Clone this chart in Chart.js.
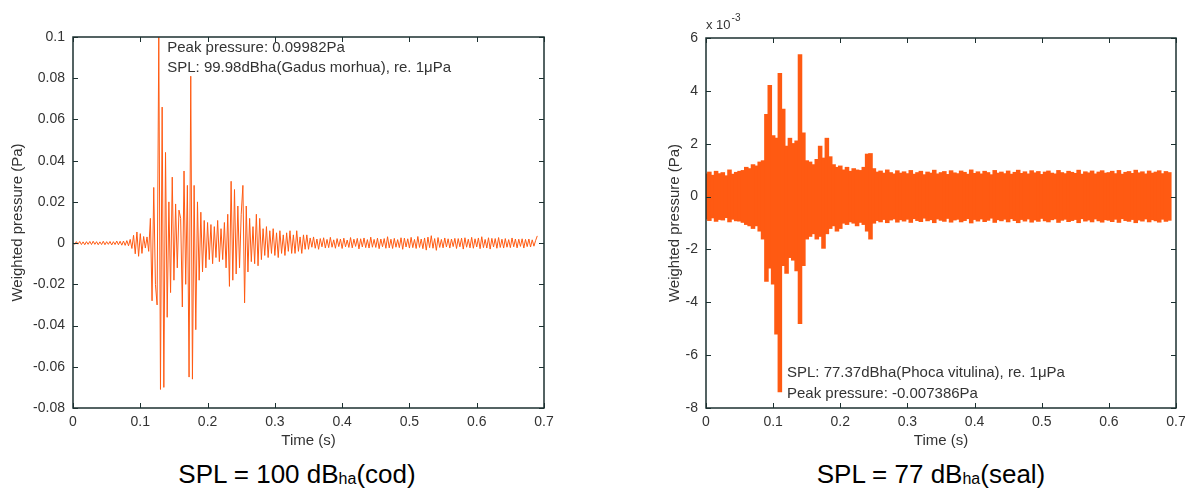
<!DOCTYPE html>
<html>
<head>
<meta charset="utf-8">
<script src="https://cdn.jsdelivr.net/npm/chart.js"></script>
<style>
  body { margin: 0; background: #fff; width: 1185px; height: 488px; overflow: hidden; position: relative; font-family: "Liberation Sans", Arial, sans-serif; }
  canvas { position: absolute; top: 0; }
  #cod { left: 0; }
  #seal { left: 650px; }
  .caption { position: absolute; top: 461px; width: 400px; height: 26px; line-height: 26px; font-size: 26px; text-align: center; color: #000; white-space: nowrap; }
  .caption span { font-size: 16px; vertical-align: -1px; }
</style>
</head>
<body>
<canvas id="cod" width="580" height="450"></canvas>
<canvas id="seal" width="535" height="450"></canvas>
<div class="caption" style="left:97px">SPL = 100 dB<span>ha</span>(cod)</div>
<div class="caption" style="left:731px">SPL = 77 dB<span>ha</span>(seal)</div>
<script>
// shared axes
const timeTicks = [0, 0.1, 0.2, 0.3, 0.4, 0.5, 0.6, 0.7];
const codYTicks = [-0.08, -0.06, -0.04, -0.02, 0, 0.02, 0.04, 0.06, 0.08, 0.1];
const sealYTicks = [-8, -6, -4, -2, 0, 2, 4, 6];

// cod: weighted pressure in mPa, one sample every 2.5 ms
const codStep = 0.0025;
const codValues = [
  0.3, -0.6, 0.7, -0.5, 0.8, -0.7, 0.6, -0.8, 0.7, -0.6,
  0.8, -0.7, 0.9, -0.6, 0.7, -0.8, 0.6, -0.7, 0.9, -0.8,
  0.7, -0.6, 0.8, -0.9, 0.7, -0.7, 1.0, -0.8, 0.9, -1.0,
  1.0, -1.1, 1.2, -1.3, 1.8, -2.6, 3.8, -5.2, 5.4, -6.4,
  4.6, -5.0, 3.2, -2.4, 3.0, -4.0, 12, -28, 27, -20,
  -30, 99.82, -71, 66, -70, 44, -36, 20, -24, 32,
  -18, 19, -12, 16, 12, -31, 35, -20, 28, -65,
  81, -66, 28, -42, 20, -18, 15, -14, 11, -12,
  10, -8, 9, -10, 8, -7, 11, -9, 7, -8,
  10, -12, 14, -21, 30, -18, 26, -15, 18, -12,
  14, 28, -29, 18, -14, 12, -9, 8, -10, 14,
  -11, 12, -8, 7, -6, 8, -7, 6, -5, 7,
  -6, 5, -7, 6, -5, 4, -6, 5, -4, 6,
  -5, 4, -5, 6, -4, 3, -5, 4, -3, 4,
  -3, 2.5, -2, 3, -2.5, 2, -3, 2.2, -1.8, 2.6,
  -2.4, 1.8, -2.2, 2.8, -2, 1.6, -2.5, 2.2, -1.7, 2,
  -2.6, 2.4, -1.8, 1.5, -2.1, 2.7, -2.3, 1.9, -1.6, 2.3,
  -2.8, 2.1, -1.9, 2.5, -2.2, 1.7, -2.4, 2.9, -2, 1.8,
  -2.1, 2.4, -2.7, 2, -1.8, 2.2, -2.5, 3.1, -2.3, 1.9,
  -2.6, 2.3, -2, 1.7, -2.2, 2.6, -3, 2.4, -1.9, 2.1,
  -2.4, 2.8, -2.2, 1.8, -2.6, 3.2, -2.1, 2, -2.7, 2.5,
  -3.4, 2.9, -2.2, 3.6, -2.5, 2.2, -3.5, 2.7, -2.1, 1.8,
  -2.3, 2.5, -1.9, 2.1, -2.4, 2, -1.7, 2.3, -2.6, 2.2,
  -1.8, 2.4, -2.9, 2.6, -2, 1.9, -2.3, 2.8, -2.5, 2.1,
  -1.9, 2.5, -2.7, 3.1, -2.2, 1.8, -2.4, 2.6, -2.9, 2.3,
  -1.9, 2.2, -2.5, 2.7, -2.1, 1.9, -2.4, 2.2, -2, 1.7,
  -2.2, 2.5, -1.8, 2, -2.3, 1.9, -1.6, 2.1, -2.4, 1.8,
  -1.7, 2, -1.9, 1.6, -1.5, 1.2, 3.5
];

// seal: dense noise, read as upper / lower envelope (x 10^-3 Pa) every 5 ms
const sealStep = 0.005;
const sealUpper = [
  0.85, 0.92, 0.80, 0.95, 0.86, 0.90, 0.78, 1.00, 0.84, 0.91,
  0.95, 0.98, 1.10, 1.05, 1.20, 1.15, 1.30, 1.35,
  3.10, 4.20, 2.30, 2.20, 4.65, 3.30, 1.90, 2.20, 2.00, 2.10, 5.36, 2.40,
  1.35, 1.30, 1.20, 1.40, 1.90, 1.45, 2.20, 1.50, 1.20, 1.10,
  1.15, 1.00, 1.10, 0.95, 1.05, 1.00, 0.98, 1.10, 1.60, 1.62,
  1.05, 0.92, 0.96, 0.88, 1.00, 0.90, 0.85, 0.97, 0.88, 0.93,
  0.86, 0.98, 0.84, 0.90, 0.95, 0.82, 0.92, 0.88, 0.99, 0.85,
  0.90, 0.94, 0.83, 0.97, 0.89, 0.86, 0.96, 0.91, 0.84, 1.00,
  0.87, 0.93, 0.85, 0.95, 0.90, 0.82, 0.98, 0.88, 0.92, 0.86,
  0.96, 0.84, 0.91, 0.99, 0.87, 0.93, 0.85, 0.97, 0.89, 0.94,
  0.83, 0.92, 0.96, 0.88, 0.85, 0.98, 0.90, 0.86, 0.95, 0.91,
  0.87, 0.99, 0.84, 0.93, 0.89, 0.96, 0.85, 0.92, 0.97, 0.88,
  0.90, 0.95, 0.86, 0.98, 0.84, 0.91, 0.94, 0.87, 0.99, 0.89,
  0.93, 0.85, 0.96, 0.88, 0.92, 0.97, 0.86, 0.94, 0.90
];
const sealLower = [
  -0.84, -0.90, -0.80, -0.93, -0.86, -0.88, -0.79, -0.95, -0.85, -0.91,
  -0.92, -0.97, -1.05, -1.10, -1.20, -1.10, -1.30, -1.60,
  -3.20, -2.70, -3.30, -5.20, -7.386, -2.60, -2.90, -2.30, -2.40, -2.80, -4.80, -2.60,
  -1.60, -1.50, -1.40, -1.60, -1.50, -1.95, -1.40, -1.20, -1.10, -1.30,
  -1.20, -1.00, -1.05, -0.95, -1.00, -1.10, -0.97, -1.05, -1.30, -1.60,
  -1.00, -0.90, -0.95, -0.86, -0.98, -0.88, -0.84, -0.96, -0.87, -0.92,
  -0.85, -0.97, -0.83, -0.90, -0.94, -0.81, -0.91, -0.87, -0.98, -0.84,
  -0.89, -0.93, -0.82, -0.96, -0.88, -0.85, -0.95, -0.90, -0.83, -0.99,
  -0.86, -0.92, -0.84, -0.94, -0.89, -0.81, -0.97, -0.87, -0.91, -0.85,
  -0.95, -0.83, -0.90, -0.98, -0.86, -0.92, -0.84, -0.96, -0.88, -0.93,
  -0.82, -0.91, -0.95, -0.87, -0.84, -0.97, -0.89, -0.85, -0.94, -0.90,
  -0.86, -0.98, -0.83, -0.92, -0.88, -0.95, -0.84, -0.91, -0.96, -0.87,
  -0.89, -0.94, -0.85, -0.97, -0.83, -0.90, -0.93, -0.86, -0.98, -0.88,
  -0.92, -0.84, -0.95, -0.87, -0.91, -0.96, -0.85, -0.93, -0.89
];

const codNotes = ["Peak pressure: 0.09982Pa", "SPL: 99.98dBha(Gadus morhua), re. 1\u03bcPa"];
const sealNotes = ["SPL: 77.37dBha(Phoca vitulina), re. 1\u03bcPa", "Peak pressure: -0.007386Pa"];

const orange = "#ff5a12";
const boxColor = "#1c3030";
const textColor = "#333";
const family = '"Liberation Sans", Arial, sans-serif';
Chart.defaults.font.family = family;

const codPoints = codValues.map((v, i) => ({ x: i * codStep, y: v / 1000 }));
// each envelope sample is one floating bar from lower to upper
const sealBars = sealUpper.map((u, i) => ({ x: i * sealStep, y: [sealLower[i], u] }));

// matlab-like box with inward ticks on all sides, plus text notes
const matlabBox = {
  id: "matlabBox",
  afterDraw(chart, args, opts) {
    const { ctx, chartArea: a, scales: { x, y } } = chart;
    ctx.save();
    ctx.strokeStyle = boxColor;
    ctx.lineWidth = 1;
    ctx.beginPath();
    x.ticks.forEach(t => {
      const px = Math.round(x.getPixelForValue(t.value)) + 0.5;
      ctx.moveTo(px, a.bottom); ctx.lineTo(px, a.bottom - 5);
      ctx.moveTo(px, a.top); ctx.lineTo(px, a.top + 5);
    });
    y.ticks.forEach(t => {
      const py = Math.round(y.getPixelForValue(t.value)) + 0.5;
      ctx.moveTo(a.left, py); ctx.lineTo(a.left + 5, py);
      ctx.moveTo(a.right, py); ctx.lineTo(a.right - 5, py);
    });
    ctx.stroke();
    ctx.lineWidth = 1.5;
    ctx.strokeRect(a.left, a.top, a.right - a.left, a.bottom - a.top);

    ctx.fillStyle = textColor;
    ctx.font = "15px " + family;
    ctx.textBaseline = "middle";
    const nx = x.getPixelForValue(opts.noteX);
    opts.notes.forEach((s, i) => {
      const ny = opts.fromTop ? a.top + opts.offset + i * 20 : a.bottom - opts.offset + i * 21;
      ctx.fillText(s, nx, ny);
    });
    if (opts.exponent) {
      ctx.textBaseline = "alphabetic";
      ctx.font = "13px " + family;
      ctx.fillText("x 10", a.left, a.top - 9);
      const w = ctx.measureText("x 10").width;
      ctx.font = "10px " + family;
      ctx.fillText("-3", a.left + w + 1, a.top - 17);
    }
    ctx.restore();
  }
};

function makeChart(id, type, datasets, yMin, yMax, yTicks, yFmt, yWidth, yTitlePad, padding, box) {
  return new Chart(document.getElementById(id), {
    type: type,
    data: { datasets: datasets },
    options: {
      responsive: false,
      animation: false,
      events: [],
      layout: { padding: padding },
      plugins: { legend: { display: false }, tooltip: { enabled: false }, matlabBox: box },
      scales: {
        x: {
          type: "linear", min: 0, max: 0.7, offset: false,
          afterBuildTicks: s => { s.ticks = timeTicks.map(v => ({ value: v })); },
          afterFit: s => { s.height = 42; s.paddingLeft = 0; s.paddingRight = 0; },
          grid: { display: false, drawTicks: false },
          border: { display: false },
          ticks: { padding: 6, autoSkip: false, maxRotation: 0, color: textColor, font: { size: 14 },
            callback: v => String(+v.toFixed(1)) },
          title: { display: true, text: "Time (s)", color: textColor, font: { size: 15 }, padding: { top: 0, bottom: 0 } }
        },
        y: {
          type: "linear", min: yMin, max: yMax,
          afterBuildTicks: s => { s.ticks = yTicks.map(v => ({ value: v })); },
          afterFit: s => { s.width = yWidth; s.paddingTop = 0; s.paddingBottom = 0; },
          grid: { display: false, drawTicks: false },
          border: { display: false },
          ticks: { padding: 8, autoSkip: false, color: textColor, font: { size: 14 }, callback: yFmt },
          title: { display: true, text: "Weighted pressure (Pa)", color: textColor, font: { size: 15 }, padding: { top: yTitlePad, bottom: 0 } }
        }
      }
    },
    plugins: [matlabBox]
  });
}

makeChart("cod", "line",
  [{ data: codPoints, borderColor: orange, borderWidth: 1, borderJoinStyle: "bevel", pointRadius: 0, tension: 0, fill: false }],
  -0.08, 0.1, codYTicks, v => String(+v.toFixed(2)), 73, 9,
  { top: 37, right: 36, bottom: 0, left: 0 },
  { notes: codNotes, noteX: 0.14, offset: 11, fromTop: true });

makeChart("seal", "bar",
  [{ data: sealBars, backgroundColor: orange, borderWidth: 0, inflateAmount: 0.6,
     barPercentage: 1, categoryPercentage: 1, grouped: false }],
  -8, 6, sealYTicks, v => String(v), 56, 16,
  { top: 38, right: 9, bottom: 0, left: 0 },
  { notes: sealNotes, noteX: 0.1206, offset: 35, fromTop: false, exponent: true });
</script>
</body>
</html>
